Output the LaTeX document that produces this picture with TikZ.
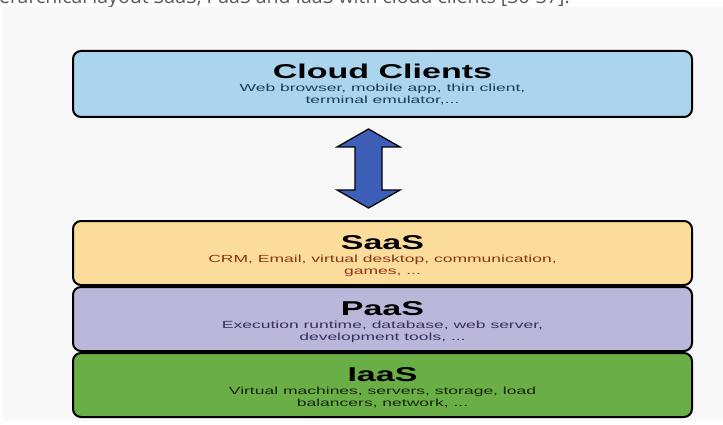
\documentclass[tikz,border=0pt]{standalone}
\usepackage{fontspec}
\setmainfont{Liberation Sans}
% wide sans used for all box texts
\newfontfamily\widesans[FakeStretch=1.7]{Liberation Sans}
\newfontfamily\capfont{Open Sans}

\definecolor{panelgray}{HTML}{F8F8F8}
\definecolor{clientblue}{HTML}{ABD5EE}
\definecolor{saasorange}{HTML}{FCDC9B}
\definecolor{paaspurple}{HTML}{BBB7DA}
\definecolor{iaasgreen}{HTML}{6AAE46}
\definecolor{arrowblue}{HTML}{3E5FB8}
\definecolor{clienttext}{HTML}{1E3A60}
\definecolor{saastext}{HTML}{8A3418}
\definecolor{paastext}{HTML}{3A2E62}
\definecolor{iaastext}{HTML}{17240E}

\tikzset{
  layer/.style={draw=black, line width=2pt, rounded corners=8pt,
    minimum width=619pt, inner sep=0pt, rectangle},
  layertitle/.style={anchor=base, inner sep=0pt,
    font=\widesans\bfseries\fontsize{20}{24}\selectfont},
  layerline/.style={anchor=base, inner sep=0pt,
    font=\widesans\fontsize{10.3}{12}\selectfont},
}

\begin{document}
\begin{tikzpicture}[x=1pt, y=-1pt]
  \useasboundingbox (0,0) rectangle (723,425);
  \fill[white] (0,0) rectangle (723,425);
  \fill[panelgray] (3,7) rectangle (723,421);

  % caption line, cut off at the top edge
  \begin{scope}
    \clip (0,0) rectangle (723,7);
    \node[anchor=base west, inner sep=0pt, text=black!65,
      font=\capfont\fontsize{19.5}{23}\selectfont] (caption) at (-1,4)
      {erarchical layout SaaS, PaaS and IaaS with cloud clients [36-37].};
  \end{scope}

  % layers
  \node[layer, fill=clientblue, minimum height=66pt] (clients) at (382.5,84) {};
  \node[layer, fill=saasorange, minimum height=64pt] (saas) at (382.5,253) {};
  \node[layer, fill=paaspurple, minimum height=64pt] (paas) at (382.5,319) {};
  \node[layer, fill=iaasgreen, minimum height=64pt] (iaas) at (382.5,385) {};

  % texts
  \node[layertitle] (clientsT) at (382.5,79) {Cloud Clients};
  \node[layerline, text=clienttext] (clientsA) at (382.5,92) {Web browser, mobile app, thin client,};
  \node[layerline, text=clienttext] (clientsB) at (382.5,104) {terminal emulator,...};

  \node[layertitle] (saasT) at (382.5,249) {SaaS};
  \node[layerline, text=saastext] (saasA) at (382.5,262) {CRM, Email, virtual desktop, communication,};
  \node[layerline, text=saastext] (saasB) at (382.5,274) {games, ...};

  \node[layertitle] (paasT) at (382.5,315) {PaaS};
  \node[layerline, text=paastext] (paasA) at (382.5,328) {Execution runtime, database, web server,};
  \node[layerline, text=paastext] (paasB) at (382.5,340) {development tools, ...};

  \node[layertitle] (iaasT) at (382.5,381) {IaaS};
  \node[layerline, text=iaastext] (iaasA) at (382.5,394) {Virtual machines, servers, storage, load};
  \node[layerline, text=iaastext] (iaasB) at (382.5,406) {balancers, network, ...};

  % two-headed block arrow between clients and the service layers
  \draw[fill=arrowblue, line width=1.3pt, line join=miter]
    (368.5,129) -- (400,147) -- (382,147) -- (382,190) -- (400,190)
    -- (368.5,208) -- (337,190) -- (355,190) -- (355,147) -- (337,147) -- cycle;
\end{tikzpicture}
\end{document}
